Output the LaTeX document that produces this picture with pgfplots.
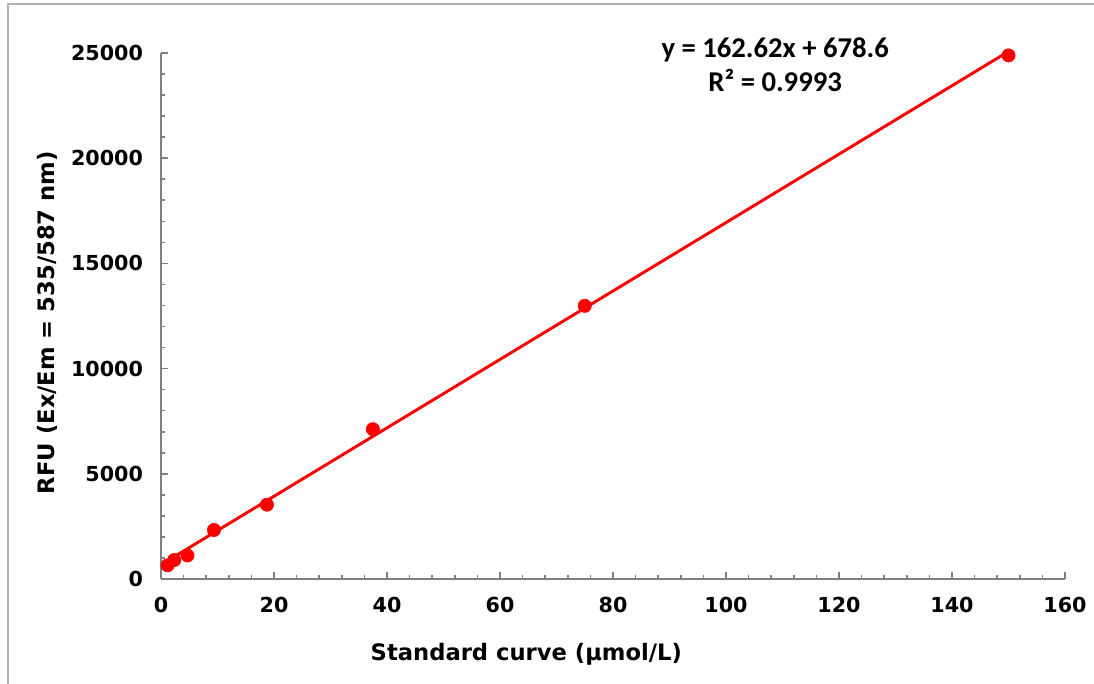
\documentclass[border=0pt]{standalone}
\usepackage{fontspec}
\setmainfont{DejaVu Sans}
\newfontfamily\calib{Carlito}
\usepackage{pgfplots}
\pgfplotsset{compat=1.18}

\definecolor{axgray}{RGB}{128,128,128}
\definecolor{fitred}{RGB}{255,0,0}

\begin{document}
\begin{tikzpicture}
% page = 1094 x 684 px at 0.75pt per px
\path[use as bounding box] (0,0) rectangle (820.5pt,513pt);
\draw[gray!60, line width=1.2pt] (6pt,0) -- (6pt,510pt) -- (820.5pt,510pt);

\begin{axis}[
  at={(120.75pt,78.75pt)}, anchor=origin,
  scale only axis, width=678pt, height=394.5pt,
  xmin=0, xmax=160, ymin=0, ymax=25000,
  axis x line=bottom, axis y line=left,
  axis line style={-, axgray, line width=1.5pt},
  xtick={0,20,...,160}, ytick={0,5000,...,25000},
  scaled y ticks=false,
  minor x tick num=4, minor y tick num=4,
  tick align=inside,
  major tick length=5pt, minor tick length=3pt,
  tick style={axgray, line width=1.2pt},
  tick label style={font=\fontsize{15.5}{17}\selectfont\bfseries},
  /pgf/number format/assume math mode=true,
  /pgf/number format/1000 sep={},
  xticklabel style={yshift=-10pt},
  yticklabel style={xshift=-10pt},
  xlabel={Standard curve (μmol/L)},
  ylabel={RFU (Ex/Em = 535/587 nm)},
  label style={font=\fontsize{17}{19}\selectfont\bfseries},
  xlabel style={yshift=-16pt, xshift=-65pt},
  ylabel style={yshift=3pt, xshift=-5pt},
  clip=false,
]
% fitted trend line y = 162.62x + 678.6
\addplot[fitred, line width=2.2pt, no marks] coordinates {(1.17,869) (150,25072)};
% standards
\addplot[only marks, mark=*, mark size=5pt, fitred, mark options={fill=fitred, draw=fitred}]
  coordinates {
    (1.17,650) (2.34,900) (4.69,1120) (9.38,2330)
    (18.75,3533) (37.5,7120) (75,12983) (150,24886)
  };
\node[font=\calib\fontsize{21.5}{26}\selectfont\bfseries, align=center, anchor=center]
  at (axis cs:108.7,24450) {y = 162.62x + 678.6\\ R² = 0.9993};
\end{axis}
\end{tikzpicture}
\end{document}
